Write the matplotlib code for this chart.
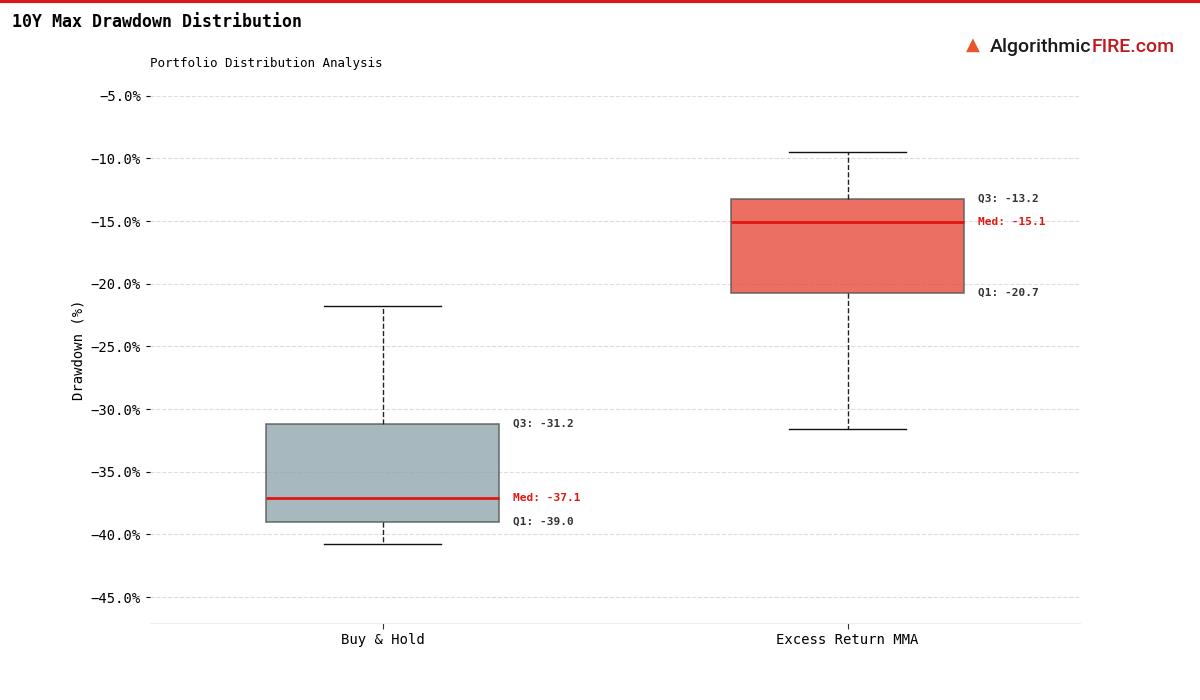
import matplotlib
matplotlib.use("Agg")
import matplotlib.pyplot as plt
from matplotlib.ticker import FuncFormatter
from matplotlib.lines import Line2D

categories = ["Buy & Hold", "Excess Return MMA"]
whisker_low = [-40.8, -31.6]
q1 = [-39.0, -20.7]
median = [-37.1, -15.1]
q3 = [-31.2, -13.2]
whisker_high = [-21.8, -9.5]
box_colors = ["#93a6b0", "#e74c3c"]

plt.rcParams['font.family'] = ['DejaVu Sans Mono', 'DejaVu Sans']

fig = plt.figure(figsize=(12, 7), dpi=100)
ax = fig.add_axes([0.125, 0.11, 0.775, 0.78])

stats = []
for i, c in enumerate(categories):
    stats.append(dict(label=c, whislo=whisker_low[i], q1=q1[i], med=median[i],
                      q3=q3[i], whishi=whisker_high[i], fliers=[]))

bp = ax.bxp(stats, positions=range(len(categories)), widths=0.5, patch_artist=True,
            showfliers=False, capwidths=0.25,
            boxprops=dict(edgecolor="#555555", linewidth=1.2),
            medianprops=dict(color="#e0160f", linewidth=2),
            whiskerprops=dict(color="#222222", linestyle="--", linewidth=1),
            capprops=dict(color="#111111", linewidth=1))
for patch, col in zip(bp["boxes"], box_colors):
    patch.set_facecolor(col)
    patch.set_alpha(0.8)

for i in range(len(categories)):
    xt = i + 0.28
    ax.text(xt, q3[i], f"Q3: {q3[i]:.1f}", fontsize=8, fontweight="bold",
            color="#333333", va="center", ha="left")
    ax.text(xt, median[i], f"Med: {median[i]:.1f}", fontsize=8, fontweight="bold",
            color="#e0160f", va="center", ha="left")
    ax.text(xt, q1[i], f"Q1: {q1[i]:.1f}", fontsize=8, fontweight="bold",
            color="#333333", va="center", ha="left")

ax.set_xlim(-0.5, 1.5)
ax.set_ylim(-47.07, -3.5)
ax.set_yticks([-45, -40, -35, -30, -25, -20, -15, -10, -5])
ax.yaxis.set_major_formatter(FuncFormatter(lambda v, p: f"{v:.1f}%".replace("-", "\u2212")))
ax.set_xticks(range(len(categories)))
ax.set_xticklabels(categories, fontsize=10)
ax.tick_params(axis="y", labelsize=10, length=3)
ax.tick_params(axis="x", length=4, color="#333333")
ax.grid(axis="y", linestyle="--", color="#dddddd", linewidth=0.8)
ax.set_axisbelow(True)
for s in ["top", "right", "left"]:
    ax.spines[s].set_visible(False)
ax.spines["bottom"].set_color("#eeeeee")
ax.set_ylabel("Drawdown (%)", fontsize=10)
ax.set_title("Portfolio Distribution Analysis", fontsize=9, loc="left", pad=7)

fig.text(0.01, 0.968, "10Y Max Drawdown Distribution", fontsize=12, fontweight="bold",
         va="center", ha="left")
fig.add_artist(Line2D([0, 1], [0.998, 0.998], color="#d7191c", linewidth=3,
                      transform=fig.transFigure))

# logo
t1 = fig.text(0.825, 0.933, "Algorithmic", fontsize=14, fontfamily="Roboto",
              fontweight="medium", color="#1a1a1a", va="center", ha="left")
fig.canvas.draw()
bb = t1.get_window_extent(renderer=fig.canvas.get_renderer())
x_end = bb.x1 / fig.bbox.width
fig.text(x_end, 0.933, "FIRE.com", fontsize=14, fontfamily="Roboto",
         fontweight="medium", color="#c0191f", va="center", ha="left")
fig.text(0.811, 0.936, "\u25B2", fontsize=13, fontfamily="DejaVu Sans",
         color="#e8552a", va="center", ha="center")

fig.savefig("out.png", dpi=100)
